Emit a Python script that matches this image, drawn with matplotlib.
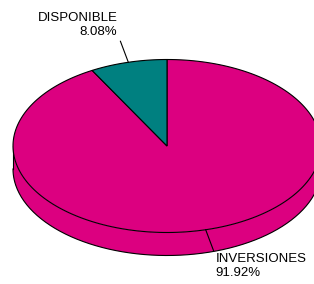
import matplotlib.pyplot as plt
import numpy as np

categorias = ["INVERSIONES", "DISPONIBLE"]
porcentajes = [91.92, 8.08]
colores = ["#DC0080", "#008080"]

plt.rcParams["font.family"] = ["Liberation Sans", "DejaVu Sans"]

fig = plt.figure(figsize=(3.14, 2.84), dpi=100)
ax = fig.add_axes([0, 0, 1, 1])
ax.set_xlim(0, 314)
ax.set_ylim(284, 0)
ax.axis("off")

# geometria del pastel 3D (pixeles)
cx, cy = 167, 146
rx, ry = 154, 86.5
prof = 23


def borde(a1, a2, dy=0, n=200):
    t = np.radians(np.linspace(a1, a2, n))
    return cx + rx * np.cos(t), cy - ry * np.sin(t) + dy


# angulos de cada sector (sentido horario desde las 12)
fracs = np.array(porcentajes) / sum(porcentajes)
fin = 90 - 360 * np.cumsum(fracs)
ini = np.concatenate([[90], fin[:-1]])

# paredes laterales (mitad frontal: 180 a 360)
for a1, a2, col in zip(ini, fin, colores):
    lo, hi = min(a1, a2), max(a1, a2)
    for desp in (0, 360, -360):
        s = max(lo + desp, 180)
        e = min(hi + desp, 360)
        if e > s:
            xs, ys = borde(s, e)
            xb, yb = borde(e, s, prof)
            ax.fill(np.concatenate([xs, xb]), np.concatenate([ys, yb]),
                    color=col, ec="none", zorder=1)

xb, yb = borde(180, 360, prof)
ax.plot(xb, yb, color="black", lw=0.8, zorder=2)
ax.plot([cx - rx, cx - rx], [cy, cy + prof], color="black", lw=0.8, zorder=2)

# tapa superior
for a1, a2, col in zip(ini, fin, colores):
    xs, ys = borde(a1, a2)
    ax.fill(np.concatenate([[cx], xs]), np.concatenate([[cy], ys]),
            fc=col, ec="black", lw=0.8, zorder=3)

# etiquetas con lineas guia
for nombre, pct, a1, a2 in zip(categorias, porcentajes, ini, fin):
    med = np.radians((a1 + a2) / 2)
    x0 = cx + rx * np.cos(med)
    y0 = cy - ry * np.sin(med)
    dx, dy = np.cos(med), -np.sin(med)
    x1, y1 = x0 + 9 * np.sign(dx) * abs(dx) * 3.5, y0 + 21 * np.sign(dy)
    ax.plot([x0, x1], [y0, y1], color="black", lw=0.8, zorder=4)
    texto = f"{nombre}\n{pct:.2f}%"
    if dy < 0:
        ax.text(x1 - 3, y1 - 3, texto, ha="right", va="bottom",
                multialignment="right", fontsize=9.5, linespacing=1.25, zorder=5)
    else:
        ax.text(x1 + 2, y1 + 2, texto, ha="left", va="top",
                multialignment="left", fontsize=9.5, linespacing=1.25, zorder=5)

fig.savefig("out.png", dpi=100)
